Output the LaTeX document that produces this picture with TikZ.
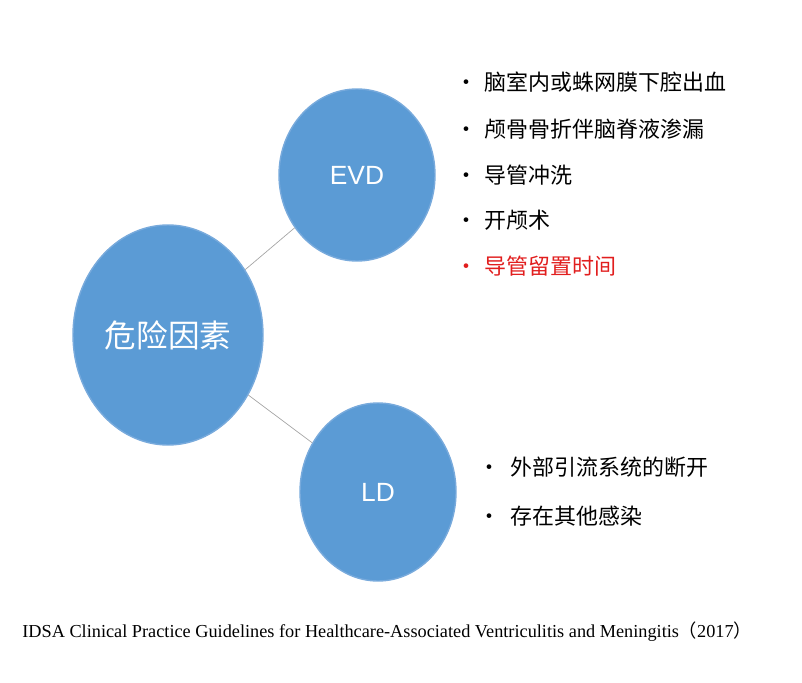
\documentclass[tikz,border=0pt]{standalone}
\usepackage{fontspec}
\setmainfont{Liberation Serif}
\newfontfamily\cjk{Noto Sans CJK SC}
\newfontfamily\sans{Liberation Sans}
\usetikzlibrary{positioning, shapes.geometric}
\definecolor{kreis}{RGB}{91, 155, 213}
\definecolor{rand}{RGB}{120, 170, 220}
\definecolor{rot}{RGB}{225, 30, 30}
\tikzset{
    blob/.style={ellipse, fill=kreis, draw=rand, thick, text=white, inner sep=0pt},
    item/.style={anchor=west, font=\cjk\fontsize{12.5}{14}\selectfont, inner sep=0pt},
    conn/.style={-, gray!70, thin},
}
\begin{document}
\begin{tikzpicture}[x=0.02cm, y=-0.02cm]
        \useasboundingbox (0,0) rectangle (802,683);

        \node [blob, minimum width=190*0.02cm, minimum height=220*0.02cm, font=\cjk\fontsize{18}{20}\selectfont] (risk) at (168,335) {危险因素};
        \node [blob, minimum width=156*0.02cm, minimum height=172*0.02cm, font=\sans\fontsize{15}{17}\selectfont] (evd) at (357,175) {EVD};
        \node [blob, minimum width=156*0.02cm, minimum height=178*0.02cm, font=\sans\fontsize{15}{17}\selectfont] (ld) at (378,492) {LD};

        \draw [conn] (risk) -- (evd);
        \draw [conn] (risk) -- (ld);

        \node [item] (e1) at (455,82) {•\hspace{0.15cm}脑室内或蛛网膜下腔出血};
        \node [item] (e2) at (455,129) {•\hspace{0.15cm}颅骨骨折伴脑脊液渗漏};
        \node [item] (e3) at (455,175) {•\hspace{0.15cm}导管冲洗};
        \node [item] (e4) at (455,220) {•\hspace{0.15cm}开颅术};
        \node [item, text=rot] (e5) at (455,266) {•\hspace{0.15cm}导管留置时间};

        \node [item] (l1) at (478,467) {•\hspace{0.2cm}外部引流系统的断开};
        \node [item] (l2) at (478,516) {•\hspace{0.2cm}存在其他感染};

        \node [anchor=west, inner sep=0pt, font=\fontsize{10.4}{12}\selectfont] (src) at (22,632) {IDSA Clinical Practice Guidelines for Healthcare-Associated Ventriculitis and Meningitis{\cjk（}2017{\cjk）}};
    \end{tikzpicture}
\end{document}
